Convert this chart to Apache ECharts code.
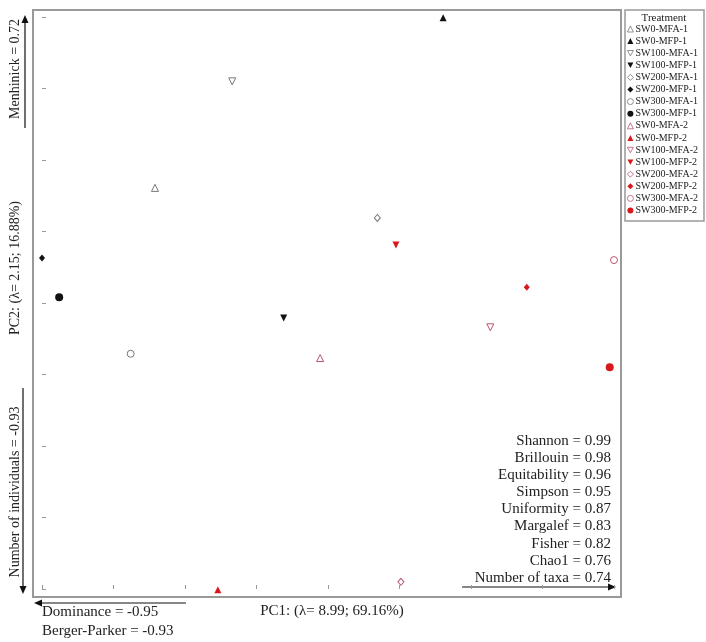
<!DOCTYPE html>
<html>
<head>
<meta charset="utf-8">
<script src="https://cdn.jsdelivr.net/npm/echarts@6/dist/echarts.min.js"></script>
<style>
  html, body { margin: 0; padding: 0; background: #fff; }
  #chart { width: 706px; height: 642px; }
</style>
</head>
<body>
<div id="chart"></div>
<script>
// PCA scores (in tick units)
const treatments = ['SW0-MFA-1', 'SW0-MFP-1', 'SW100-MFA-1', 'SW100-MFP-1', 'SW200-MFA-1', 'SW200-MFP-1',
  'SW300-MFA-1', 'SW300-MFP-1', 'SW0-MFA-2', 'SW0-MFP-2', 'SW100-MFA-2', 'SW100-MFP-2',
  'SW200-MFA-2', 'SW200-MFP-2', 'SW300-MFA-2', 'SW300-MFP-2'];
const pc1 = [1.58, 5.61, 2.66, 3.38, 4.69, 0.00, 1.24, 0.24, 3.89, 2.46, 6.27, 4.95, 5.02, 6.78, 8.00, 7.94];
const pc2 = [5.61, 7.99, 7.10, 3.79, 5.19, 4.63, 3.29, 4.08, 3.23, -0.01, 3.66, 4.81, 0.10, 4.22, 4.60, 3.10];

const xTicks = [0, 1, 2, 3, 4, 5, 6, 7, 8];
const yTicks = [0, 1, 2, 3, 4, 5, 6, 7, 8];

// correlations of the diversity indices
const rightIndices = ['Shannon = 0.99', 'Brillouin = 0.98', 'Equitability = 0.96', 'Simpson = 0.95',
  'Uniformity = 0.87', 'Margalef = 0.83', 'Fisher = 0.82', 'Chao1 = 0.76', 'Number of taxa = 0.74'];
const leftIndices = ['Dominance = -0.95', 'Berger-Parker = -0.93'];

const FONT = 'Liberation Serif';
const TXT = '#222';
const DOWN_TRI = 'path://M0,0 L10,0 L5,9 Z';

// marker style per treatment
function markerStyle(name) {
  const rep2 = name.endsWith('-2');
  const open = name.includes('MFA');
  let symbol = 'circle', size = 7;
  if (name.startsWith('SW0-')) { symbol = 'triangle'; size = 7; }
  else if (name.startsWith('SW100-')) { symbol = DOWN_TRI; size = 7; }
  else if (name.startsWith('SW200-')) { symbol = 'diamond'; size = [6, 7]; }
  else if (!open) size = 8;
  const col = rep2 ? (open ? '#b8566c' : '#d7191c') : (open ? '#777' : '#111');
  return {
    symbol, size,
    itemStyle: open
      ? { color: '#fff', borderColor: col, borderWidth: 1, opacity: 1 }
      : { color: col, borderWidth: 0, opacity: 1 }
  };
}

const series = treatments.map((name, i) => {
  const m = markerStyle(name);
  return {
    name,
    type: 'scatter',
    symbol: m.symbol,
    symbolSize: m.size,
    itemStyle: m.itemStyle,
    data: [[pc1[i], pc2[i]]]
  };
});

function arrow(x1, y1, x2, y2) {
  // line from (x1,y1) with head at (x2,y2)
  const ang = Math.atan2(y2 - y1, x2 - x1);
  const L = 8, W = 3.5;
  const bx = x2 - L * Math.cos(ang), by = y2 - L * Math.sin(ang);
  const px = -Math.sin(ang) * W, py = Math.cos(ang) * W;
  return [
    { type: 'line', shape: { x1, y1, x2: bx, y2: by }, style: { stroke: '#111', lineWidth: 1.2 } },
    { type: 'polygon', shape: { points: [[x2, y2], [bx + px, by + py], [bx - px, by - py]] }, style: { fill: '#111' } }
  ];
}

function vtext(text, x, y) {
  return {
    type: 'text', x, y, rotation: Math.PI / 2,
    style: { text, font: '14px "' + FONT + '"', fill: TXT, align: 'center', verticalAlign: 'middle' }
  };
}

function htext(text, x, y, align) {
  return {
    type: 'text', x, y,
    style: { text, font: '15px "' + FONT + '"', fill: TXT, align, verticalAlign: 'middle' }
  };
}

const graphics = [
  { type: 'rect', shape: { x: 625, y: 10, width: 79, height: 211 }, style: { fill: '#fff', stroke: '#999', lineWidth: 1.5 }, z: -1 },
  { type: 'text', x: 664, y: 18, style: { text: 'Treatment', font: '11px "' + FONT + '"', fill: TXT, align: 'center', verticalAlign: 'middle' } },
  vtext('Menhinick = 0.72', 15, 69),
  vtext('PC2: (λ= 2.15; 16.88%)', 15, 268),
  vtext('Number of individuals = -0.93', 15, 492),
  ...arrow(25, 128, 25, 15),
  ...arrow(23, 388, 23, 594),
  ...arrow(186, 603, 34, 603),
  ...arrow(462, 587, 616, 587),
  htext('PC1: (λ= 8.99; 69.16%)', 332, 611, 'center')
];
leftIndices.forEach((t, i) => graphics.push(htext(t, 42, 612 + i * 19, 'left')));
rightIndices.forEach((t, i) => graphics.push(htext(t, 611, 441 + i * 17.1, 'right')));

const chart = echarts.init(document.getElementById('chart'), null, { renderer: 'canvas' });
chart.setOption({
  animation: false,
  backgroundColor: '#fff',
  grid: { left: 33, right: 85, top: 10, bottom: 45, show: true, borderColor: '#999', borderWidth: 2, backgroundColor: '#fff' },
  xAxis: {
    type: 'value', min: -0.126, max: 8.098,
    splitLine: { show: false },
    axisLine: { show: false },
    axisLabel: { show: false },
    axisTick: { show: true, inside: true, length: 4, lineStyle: { color: '#999' }, customValues: xTicks }
  },
  yAxis: {
    type: 'value', min: -0.112, max: 8.098,
    splitLine: { show: false },
    axisLine: { show: false },
    axisLabel: { show: false },
    axisTick: { show: true, inside: true, length: 4, lineStyle: { color: '#999' }, customValues: yTicks }
  },
  legend: {
    orient: 'vertical', left: 622, top: 19,
    itemWidth: 6, itemHeight: 6, itemGap: 2.1,
    itemStyle: { borderWidth: 0.8 },
    textStyle: { fontFamily: FONT, fontSize: 10, color: TXT, lineHeight: 10, padding: [0, 0, 0, -3] },
    data: treatments
  },
  graphic: graphics,
  series
});
</script>
</body>
</html>
